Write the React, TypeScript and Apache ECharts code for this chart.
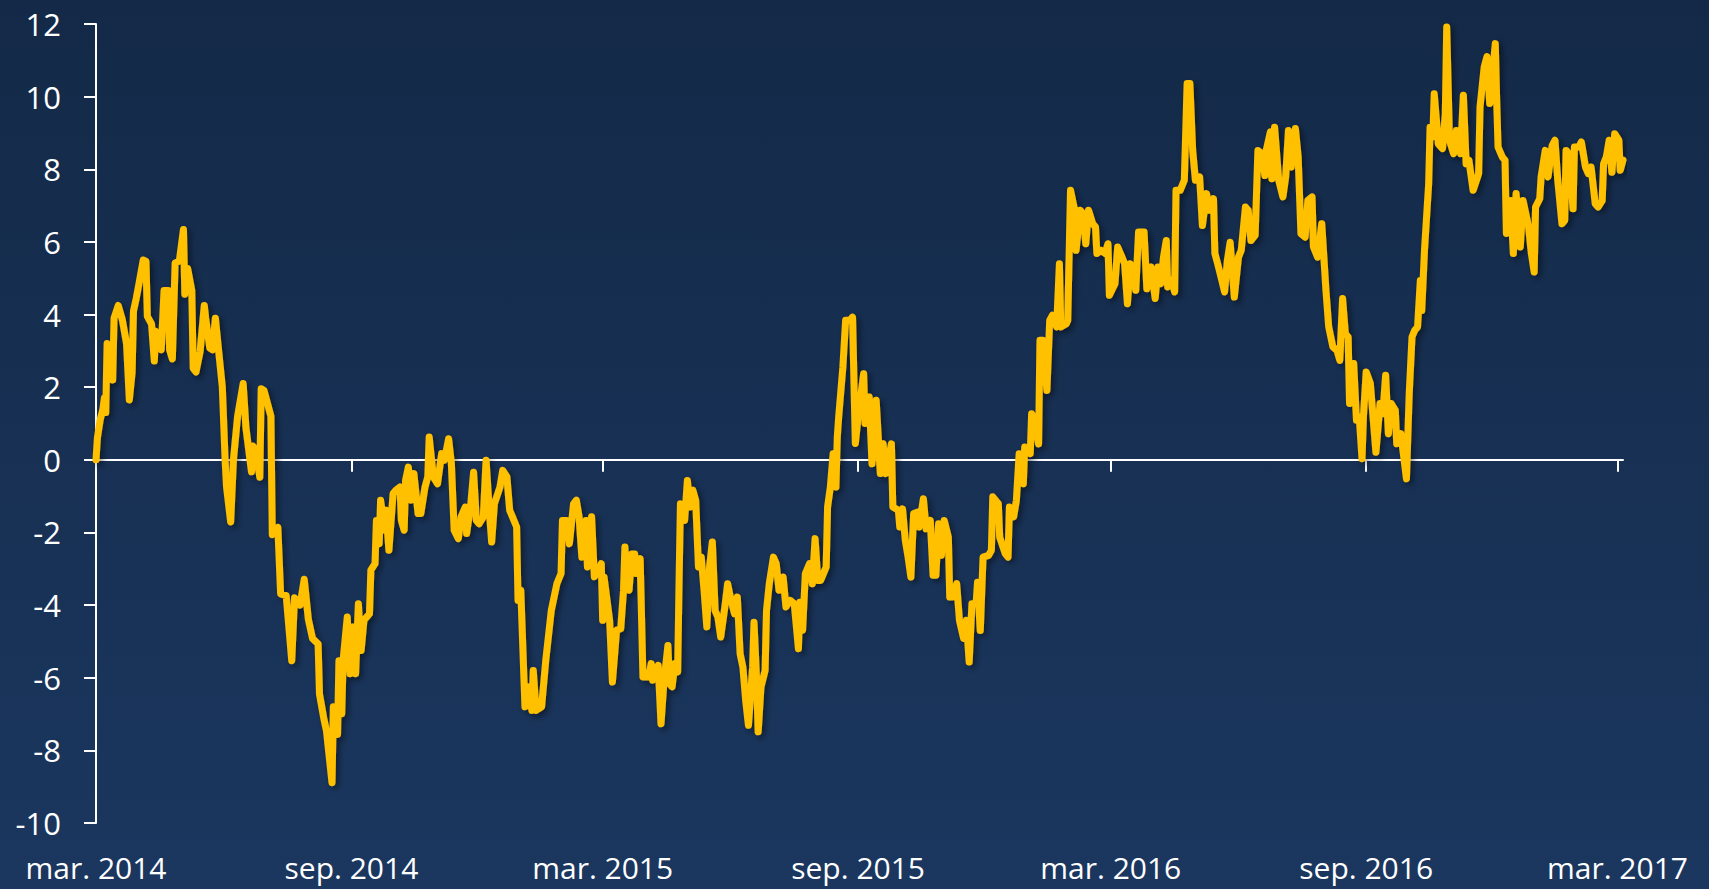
import { useEffect, useRef } from "react";
import * as echarts from "echarts";

// Observations: [days since 1 March 2014, value]
const mar2014_aug2014: [number, number][] = [
  [0, 0.0], [1, 0.6], [3, 1.1], [5, 1.4], [6, 1.7], [7, 1.3], [8, 3.2], [10, 3.1], [12, 2.2], [13, 3.9],
  [16, 4.25], [19, 3.85], [22, 3.2], [24, 1.65], [26, 2.4], [27, 4.1], [29, 4.45], [31, 4.86], [34, 5.5], [36, 5.47],
  [37, 3.95], [40, 3.74], [42, 2.72], [43, 3.54], [47, 3.03], [49, 4.66], [52, 4.66], [53, 3.03], [55, 2.78], [57, 5.42],
  [60, 5.47], [63, 6.34], [64, 4.56], [66, 5.27], [69, 4.66], [70, 2.52], [72, 2.42], [75, 2.98], [78, 4.25], [79, 3.9],
  [82, 3.08], [84, 3.03], [86, 3.9], [88, 3.13], [91, 2.0], [93, 0.0], [94, -0.74], [97, -1.71], [99, 0.0], [102, 1.2],
  [106, 2.1], [108, 0.89], [112, -0.33], [113, 0.38], [115, 0.28], [118, -0.48], [119, 1.96], [121, 1.91], [126, 1.2], [127, -2.06],
  [131, -1.86], [133, -3.69], [137, -3.74], [141, -5.53], [143, -3.8], [147, -4.0], [150, -3.29], [153, -4.4], [156, -4.92], [160, -5.07],
  [161, -6.45], [164, -7.1], [166, -7.46], [170, -8.89], [171, -6.8], [174, -7.56], [175, -5.53], [177, -6.99], [178, -5.52], [181, -4.33],
  [183, -5.89],
];

const sep2014_feb2015: [number, number][] = [
  [185, -4.6], [187, -5.89], [189, -3.96], [191, -5.25], [193, -4.42], [197, -4.24], [198, -3.04], [201, -2.86], [202, -1.67], [204, -2.31],
  [205, -1.11], [208, -1.94], [209, -1.39], [211, -2.49], [214, -0.93], [216, -0.84], [219, -0.75], [220, -1.67], [222, -1.94], [223, -0.56],
  [225, -0.2], [227, -1.11], [229, -0.38], [232, -1.48], [234, -1.48], [237, -0.75], [239, -0.47], [240, 0.63], [243, -0.47], [246, -0.66],
  [249, 0.17], [251, -0.01], [254, 0.58], [256, -0.1], [258, -1.94], [261, -2.17], [263, -1.57], [266, -1.3], [267, -2.03], [270, -1.21],
  [272, -0.34], [274, -1.67], [276, -1.76], [279, -1.57], [281, -0.01], [283, -1.21], [285, -2.26], [287, -1.21], [291, -0.75], [293, -0.29],
  [296, -0.47], [298, -1.39], [300, -1.57], [303, -1.85], [304, -3.87], [306, -3.59], [309, -6.8], [311, -6.25], [314, -6.9], [315, -5.8],
  [317, -6.9], [321, -6.8], [324, -5.52], [328, -4.14], [332, -3.41], [335, -3.13], [336, -1.67], [339, -1.67], [341, -2.31], [344, -1.21],
  [346, -1.11], [348, -1.57], [350, -2.68], [353, -1.67], [354, -2.95], [357, -1.57], [359, -3.22], [363, -2.95], [364, -2.86],
];

const mar2015_aug2015: [number, number][] = [
  [365, -4.42], [366, -3.23], [370, -4.42], [372, -6.12], [375, -4.69], [378, -4.65], [380, -3.59], [381, -2.4], [383, -3.5], [384, -3.59],
  [386, -2.59], [388, -2.59], [389, -3.13], [392, -2.72], [394, -5.98], [398, -5.98], [400, -5.61], [401, -6.07], [405, -5.66], [407, -7.27],
  [409, -6.16], [412, -5.11], [413, -6.16], [415, -6.25], [417, -5.61], [419, -5.84], [420, -3.41], [421, -1.21], [424, -1.67], [426, -0.57],
  [428, -1.3], [430, -0.84], [432, -1.12], [434, -2.95], [436, -2.68], [438, -3.59], [440, -4.6], [442, -2.95], [444, -2.26], [446, -4.15],
  [448, -4.33], [450, -4.88], [453, -4.05], [455, -3.41], [457, -3.78], [460, -4.24], [462, -3.78], [464, -5.34], [466, -5.71], [468, -6.62],
  [470, -7.31], [473, -5.71], [474, -4.47], [476, -6.16], [477, -7.49], [479, -6.26], [482, -5.8], [483, -4.15], [485, -3.41], [488, -2.68],
  [490, -2.86], [492, -3.59], [495, -3.23], [497, -4.05], [500, -3.87], [503, -3.96], [506, -5.2], [507, -3.92], [509, -4.69], [511, -3.13],
  [514, -2.86], [516, -3.41], [518, -2.17], [520, -3.32], [522, -3.32], [526, -2.95], [527, -1.3], [529, -0.75], [531, 0.17], [533, -0.75],
  [534, 0.63], [535, 1.18], [538, 2.55], [540, 3.84], [543, 3.84], [545, 3.93], [547, 0.45],
];

const sep2015_feb2016: [number, number][] = [
  [549, 1.18], [553, 2.37], [554, 1.0], [557, 1.73], [559, -0.11], [562, 1.64], [565, -0.38], [567, 0.44], [569, -0.38], [573, 0.44],
  [574, -1.3], [578, -1.39], [579, -1.85], [581, -1.35], [583, -2.22], [585, -2.68], [587, -3.23], [589, -1.48], [592, -1.44], [593, -1.85],
  [596, -1.07], [598, -1.9], [601, -1.67], [603, -3.18], [605, -3.18], [607, -1.76], [609, -2.63], [611, -1.67], [614, -2.13], [615, -3.78],
  [617, -3.78], [620, -3.41], [622, -4.42], [625, -4.92], [627, -4.42], [629, -5.57], [631, -3.96], [634, -3.96], [635, -3.37], [637, -4.7],
  [639, -2.68], [643, -2.63], [645, -2.49], [646, -1.02], [650, -1.21], [651, -2.13], [655, -2.58], [657, -2.68], [658, -1.3], [661, -1.57],
  [663, -1.12], [665, 0.17], [668, -0.66], [669, 0.35], [673, 0.17], [674, 1.27], [676, 1.09], [679, 0.44], [680, 3.29], [682, 3.29],
  [685, 1.91], [687, 3.84], [689, 3.98], [692, 3.66], [694, 5.4], [695, 3.66], [699, 3.75], [700, 3.84], [702, 7.42], [705, 6.87],
  [706, 5.77], [709, 6.87], [711, 6.78], [713, 5.95], [715, 6.87], [718, 6.5], [720, 6.41], [721, 5.68], [724, 5.77], [727, 5.68],
  [729, 5.95], [730, 4.53],
];

const mar2016_aug2016: [number, number][] = [
  [734, 4.85], [736, 5.86], [739, 5.59], [741, 5.4], [743, 4.3], [745, 5.4], [747, 5.17], [749, 4.67], [751, 6.27], [755, 6.27],
  [757, 4.71], [760, 5.31], [763, 4.44], [765, 5.31], [767, 4.85], [769, 5.59], [771, 6.04], [772, 4.76], [775, 4.95], [777, 4.62],
  [778, 7.42], [781, 7.42], [784, 7.7], [786, 10.36], [788, 10.36], [790, 8.52], [792, 7.7], [795, 7.79], [797, 6.45], [800, 7.33],
  [802, 6.87], [805, 7.19], [806, 5.68], [808, 5.4], [811, 4.94], [813, 4.62], [815, 5.49], [817, 5.99], [820, 4.48], [823, 5.58],
  [825, 5.77], [828, 6.96], [830, 6.87], [832, 6.04], [835, 6.18], [837, 8.52], [840, 8.43], [842, 7.83], [843, 8.52], [846, 9.03],
  [847, 7.74], [849, 9.16], [852, 7.7], [855, 7.24], [857, 7.79], [859, 9.07], [861, 8.06], [864, 9.12], [866, 8.34], [868, 6.23],
  [871, 6.13], [873, 7.14], [876, 7.24], [877, 5.86], [880, 5.58], [883, 6.5], [886, 4.67], [888, 3.66], [891, 3.11], [894, 3.01],
  [896, 2.74], [898, 4.44], [900, 3.47], [902, 3.38], [903, 1.55], [906, 2.65], [908, 1.09], [910, 1.18], [912, 0.03], [913, 1.18],
];

const sep2016_mar2017: [number, number][] = [
  [915, 2.42], [918, 2.1], [922, 0.21], [925, 1.55], [927, 1.27], [929, 2.33], [931, 0.72], [933, 1.55], [936, 1.36], [937, 0.44],
  [940, 0.72], [944, -0.52], [946, 1.82], [948, 3.38], [950, 3.57], [952, 3.66], [954, 4.94], [955, 4.11], [957, 5.77], [960, 7.6],
  [961, 9.16], [963, 8.89], [964, 10.08], [967, 8.7], [970, 8.57], [972, 9.53], [973, 11.92], [975, 8.8], [978, 8.43], [980, 9.07],
  [983, 8.43], [985, 10.04], [987, 8.15], [989, 8.25], [992, 7.42], [996, 7.88], [997, 9.71], [1000, 10.82], [1002, 11.1], [1004, 9.81],
  [1008, 11.46], [1009, 9.9], [1010, 8.61], [1013, 8.34], [1015, 8.25], [1016, 6.23], [1019, 7.14], [1021, 5.68], [1023, 7.33], [1026, 5.86],
  [1028, 7.14], [1031, 6.59], [1032, 6.41], [1034, 5.68], [1036, 5.17], [1037, 6.96], [1040, 7.19], [1041, 7.79], [1044, 8.52], [1046, 7.79],
  [1049, 8.66], [1051, 8.8], [1053, 7.7], [1056, 6.5], [1058, 6.59], [1059, 8.52], [1061, 8.43], [1064, 6.91], [1065, 8.61], [1068, 8.61],
  [1070, 8.75], [1073, 8.06], [1075, 7.88], [1077, 8.06], [1080, 7.05], [1082, 6.96], [1085, 7.14], [1086, 8.15], [1088, 8.34], [1090, 8.8],
  [1092, 7.92], [1094, 8.98], [1097, 8.8], [1098, 7.97], [1100, 8.25],
];

const startDate = "2014-03-01";
const tickDates = ["2014-03-01", "2014-09-01", "2015-03-01", "2015-09-01", "2016-03-01", "2016-09-01", "2017-03-01"];
const tickLabels = ["mar. 2014", "sep. 2014", "mar. 2015", "sep. 2015", "mar. 2016", "sep. 2016", "mar. 2017"];

const yMin = -10;
const yMax = 12;
const yStep = 2;
const lastDay = 1100;

const DAY = 86400000;
const parseDate = (s: string) => {
  const [y, m, d] = s.split("-").map(Number);
  return Date.UTC(y, m - 1, d);
};

export default function App() {
  const ref = useRef<HTMLDivElement>(null);

  useEffect(() => {
    if (!ref.current) return;
    const chart = echarts.init(ref.current, undefined, { renderer: "svg" });
    const data = [
      ...mar2014_aug2014,
      ...sep2014_feb2015,
      ...mar2015_aug2015,
      ...sep2015_feb2016,
      ...mar2016_aug2016,
      ...sep2016_mar2017,
    ];
    const start = parseDate(startDate);
    const tickDays = tickDates.map((s) => Math.round((parseDate(s) - start) / DAY));
    const labelFor = (val: number) => {
      const i = tickDays.indexOf(Math.round(val));
      return i >= 0 ? tickLabels[i] : "";
    };
    const font = {
      color: "#ffffff",
      fontFamily: "Open Sans",
      fontSize: 31,
    };

    chart.setOption({
      animation: false,
      backgroundColor: "transparent",
      grid: {
        left: 96,
        right: 86,
        top: 24,
        bottom: 66,
        containLabel: false,
        outerBoundsMode: "none",
      },
      xAxis: [
        {
          type: "value",
          position: "bottom",
          min: 0,
          max: lastDay,
          axisLine: { show: false, onZero: false },
          axisTick: { show: false },
          splitLine: { show: false },
          axisLabel: {
            ...font,
            fontSize: 30,
            lineHeight: 30,
            margin: 29,
            customValues: tickDays,
            formatter: (val: number) => labelFor(val),
          },
        },
        {
          type: "value",
          position: "bottom",
          min: 0,
          max: lastDay,
          axisLine: { show: true, onZero: true, lineStyle: { color: "#ffffff", width: 2 } },
          axisTick: {
            show: true,
            customValues: tickDays,
            length: 12,
            lineStyle: { color: "#ffffff", width: 2 },
          },
          axisLabel: { show: false },
          splitLine: { show: false },
        },
      ],
      yAxis: {
        type: "value",
        min: yMin,
        max: yMax,
        interval: yStep,
        axisLine: { show: true, onZero: false, lineStyle: { color: "#ffffff", width: 2 } },
        axisTick: { show: true, length: 12, lineStyle: { color: "#ffffff", width: 2 } },
        splitLine: { show: false },
        axisLabel: { ...font, margin: 35 },
      },
      series: [
        {
          type: "line",
          xAxisIndex: 0,
          yAxisIndex: 0,
          data,
          symbol: "none",
          showSymbol: false,
          silent: true,
          z: 5,
          lineStyle: {
            color: "#FFC000",
            width: 7,
            cap: "round",
            join: "round",
            shadowColor: "rgba(0,0,0,0.45)",
            shadowBlur: 6,
            shadowOffsetX: 3,
            shadowOffsetY: 3,
          },
        },
      ],
    });

    return () => chart.dispose();
  }, []);

  return (
    <div
      ref={ref}
      style={{
        position: "fixed",
        left: 0,
        top: 0,
        width: 1709,
        height: 889,
        background: "linear-gradient(to bottom, #132947 0%, #1b375f 100%)",
      }}
    />
  );
}
